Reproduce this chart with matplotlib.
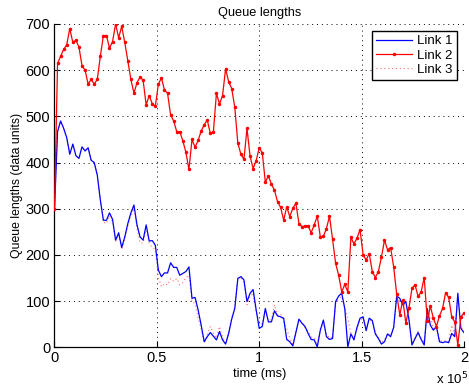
import numpy as np
import matplotlib
matplotlib.use("Agg")
from matplotlib import pyplot as plt

plt.rcParams['font.family'] = ['Liberation Sans', 'DejaVu Sans']

# queue lengths sampled over 0..2e5 ms (135 samples)
link1 = [300, 467, 490, 474, 454, 418, 440, 415, 409, 434,
         425, 432, 405, 400, 373, 319, 275, 275, 291, 277,
         232, 248, 216, 239, 268, 291, 308, 265, 239, 232,
         265, 230, 231, 221, 167, 153, 161, 161, 183, 173,
         173, 156, 160, 164, 174, 106, 108, 81, 48, 12,
         23, 32, 24, 16, 34, 16, 7, 30, 61, 84,
         149, 153, 146, 99, 117, 125, 81, 41, 45, 84,
         55, 55, 79, 68, 66, 63, 17, 12, 3, 32,
         61, 52, 45, 30, 17, 16, 1, 37, 59, 23,
         17, 19, 99, 111, 117, 84, 1, 29, 16, 43,
         63, 66, 36, 63, 58, 29, 19, 7, 12, 29,
         23, 43, 111, 106, 92, 99, 60, 5, 19, 32,
         17, 5, 84, 48, 37, 45, 12, 10, 12, 10,
         30, 23, 117, 41, 32]

link2 = [300, 615, 630, 645, 655, 690, 660, 665, 650, 610,
         600, 570, 580, 570, 580, 630, 675, 675, 648, 662,
         700, 670, 695, 660, 620, 580, 550, 573, 585, 578,
         525, 545, 527, 522, 570, 583, 557, 550, 503, 490,
         467, 467, 447, 422, 385, 450, 433, 448, 468, 482,
         492, 463, 467, 550, 527, 545, 603, 575, 560, 520,
         442, 418, 407, 474, 414, 387, 404, 432, 421, 358,
         371, 353, 340, 315, 303, 275, 304, 283, 301, 312,
         268, 261, 263, 263, 248, 265, 284, 239, 240, 257,
         284, 234, 182, 156, 120, 136, 120, 238, 224, 236,
         255, 200, 189, 203, 164, 151, 164, 195, 232, 211,
         216, 174, 115, 70, 102, 52, 85, 128, 135, 110,
         120, 151, 57, 89, 63, 45, 68, 84, 118, 108,
         66, 55, 5, 66, 74]

link3 = [300, 467, 490, 474, 454, 418, 440, 415, 409, 434,
         425, 432, 405, 400, 373, 319, 271, 268, 285, 272,
         228, 244, 212, 234, 262, 286, 300, 258, 226, 226,
         258, 225, 216, 213, 151, 131, 138, 135, 149, 143,
         149, 135, 140, 151, 156, 99, 95, 63, 40, 10,
         28, 45, 30, 20, 45, 22, 10, 33, 64, 86,
         150, 150, 140, 92, 110, 118, 75, 55, 50, 80,
         58, 60, 92, 70, 72, 55, 40, 20, 8, 35,
         60, 55, 42, 35, 22, 20, 5, 40, 55, 28,
         20, 22, 95, 105, 110, 85, 63, 30, 20, 40,
         60, 62, 40, 60, 55, 32, 22, 10, 15, 30,
         25, 45, 105, 100, 90, 95, 65, 10, 22, 35,
         20, 10, 80, 68, 40, 45, 15, 12, 15, 12,
         48, 28, 110, 45, 35]

t = np.linspace(0, 2e5, len(link2))

xticks = [0, 0.5e5, 1e5, 1.5e5, 2e5]
xticklabels = ['0', '0.5', '1', '1.5', '2']
yticks = [0, 100, 200, 300, 400, 500, 600, 700]

fig = plt.figure(figsize=(4.69, 3.90), dpi=100)
ax = fig.add_axes([0.1162, 0.1095, 0.873, 0.829])

ax.plot(t, link1, color='#0000ff', lw=0.9, label='Link 1', zorder=3)
ax.plot(t, link2, color='#ff0000', lw=0.9, marker='.', markersize=3, label='Link 2', zorder=4)
ax.plot(t, link3, color='#ff7070', lw=0.8, ls=(0, (1, 2.5)), label='Link 3', zorder=2)

ax.set_xlim(0, 2e5)
ax.set_ylim(0, 700)
ax.set_xticks(xticks)
ax.set_xticklabels(xticklabels)
ax.set_yticks(yticks)
ax.tick_params(direction='in', length=4, width=0.8, labelsize=10.5, pad=3)
ax.grid(True, ls=(0, (1, 4)), color='black', lw=0.7)
for s in ['top', 'right']:
    ax.spines[s].set_visible(False)
for s in ['left', 'bottom']:
    ax.spines[s].set_linewidth(0.9)

ax.set_title('Queue lengths', fontsize=9.2, pad=6)
ax.set_xlabel('time (ms)', fontsize=9.2, labelpad=2)
ax.set_ylabel('Queue lengths (data units)', fontsize=8.8, labelpad=2)
fig.text(0.93, 0.008, r'x 10$^5$', fontsize=9.5, ha='left', va='bottom')

leg = ax.legend(loc='upper right', fontsize=9.5, fancybox=False, framealpha=1,
                edgecolor='black', borderaxespad=0.55, handlelength=2.7,
                handletextpad=0.4, labelspacing=0.15, borderpad=0.3)
leg.get_frame().set_linewidth(1.0)

fig.savefig('out.png', dpi=100)
